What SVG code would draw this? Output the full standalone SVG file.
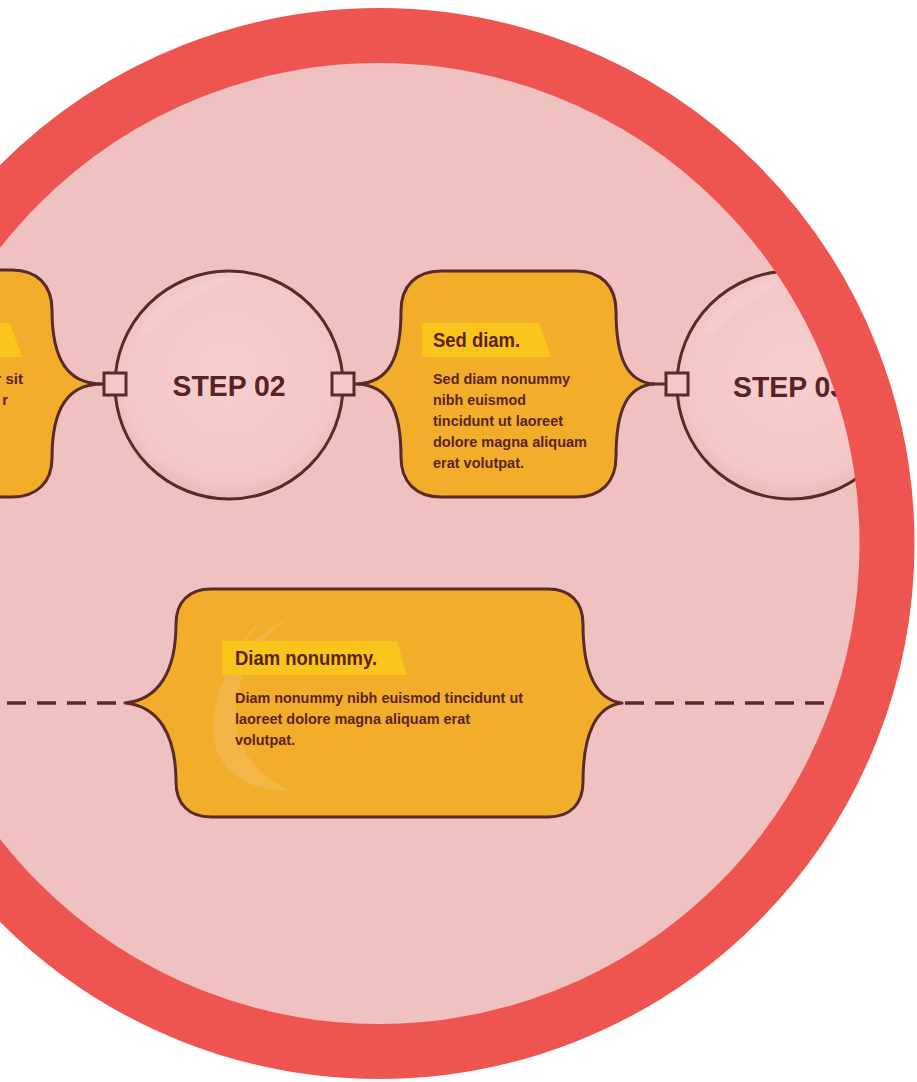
<svg xmlns="http://www.w3.org/2000/svg" width="917" height="1082" viewBox="0 0 917 1082">
  <style>
    .box { fill: #F2AE2B; stroke: #5B2A27; stroke-width: 3; stroke-linejoin: round; }
    .ribbon { fill: #F9C51C; }
    .title { font-family: "Liberation Sans", Arial, sans-serif; font-weight: bold; font-size: 21px; fill: #5A2322; }
    .body { font-family: "Liberation Sans", Arial, sans-serif; font-weight: bold; font-size: 15px; fill: #5A2322; }
    .step { fill: url(#gloss); stroke: #5B2A27; stroke-width: 3; }
    .steplabel { font-family: "Liberation Sans", Arial, sans-serif; font-weight: bold; font-size: 30px; fill: #5A2322; }
    .port { fill: #F4C8C8; stroke: #5B2A27; stroke-width: 3; }
    .link { stroke: #5B2A27; stroke-width: 3; fill: none; }
    .dash { stroke: #5B2A27; stroke-width: 3.5; fill: none; stroke-dasharray: 19 11; }
  </style>
  <defs>
    <clipPath id="inner">
      <circle cx="379" cy="543.5" r="481"/>
    </clipPath>
    <radialGradient id="gloss" cx="0.5" cy="0.45" r="0.55">
      <stop offset="0" stop-color="#F7CECE"/>
      <stop offset="0.85" stop-color="#F4C6C6"/>
      <stop offset="1" stop-color="#EBBABA"/>
    </radialGradient>
  </defs>

  <rect x="0" y="0" width="917" height="1082" fill="#FFFFFF"/>
  <circle id="background" cx="379" cy="543.5" r="481" fill="#EFC1C0"/>

  <g clip-path="url(#inner)">
    <g id="connectors">
      <line class="link" x1="98" y1="384" x2="104" y2="384"/>
      <line class="link" x1="354" y1="384" x2="360" y2="384"/>
      <line class="link" x1="652" y1="384" x2="666" y2="384"/>
      <line class="dash" x1="7" y1="703" x2="127" y2="703"/>
      <line class="dash" x1="625" y1="703" x2="900" y2="703"/>
    </g>

    <g id="box-01">
      <path class="box" d="M -100,270 H 12 C 37,270 52,285 52,310 C 52,360 68,383 100,384 C 68,385 52,408 52,458 C 52,482 37,497 12,497 H -100 Z"/>
      <polygon class="ribbon" points="-100,323 10,323 22,357 -100,357"/>
      <text class="body" x="23" y="384" text-anchor="end">r sit</text>
      <text class="body" x="8" y="405" text-anchor="end">r</text>
    </g>

    <g id="step-02">
      <circle class="step" cx="229" cy="385" r="114"/>
      <path d="M 140,330 C 160,295 200,278 240,276 C 205,290 175,305 150,335 Z" fill="#FFFFFF" opacity="0.1"/>
      <text class="steplabel" x="229" y="396" text-anchor="middle" textLength="113" lengthAdjust="spacingAndGlyphs">STEP 02</text>
      <rect class="port" x="104" y="373" width="22" height="22"/>
      <rect class="port" x="332" y="373" width="22" height="22"/>
    </g>

    <g id="box-sed-diam">
      <path class="box" d="M 441,271 H 576 C 601,271 616,286 616,311 C 616,360 628,382 654,384 C 628,386 616,408 616,457 C 616,482 601,497 576,497 H 441 C 416,497 401,482 401,457 C 401,408 388,386 358,384 C 388,382 401,360 401,311 C 401,286 416,271 441,271 Z"/>
      <polygon class="ribbon" points="422,323 539,323 551,357 422,357"/>
      <text class="title" x="433" y="347" textLength="87" lengthAdjust="spacingAndGlyphs">Sed diam.</text>
      <text class="body" x="433" y="384" textLength="137" lengthAdjust="spacingAndGlyphs">Sed diam nonummy</text>
      <text class="body" x="433" y="405" textLength="93" lengthAdjust="spacingAndGlyphs">nibh euismod</text>
      <text class="body" x="433" y="426" textLength="130" lengthAdjust="spacingAndGlyphs">tincidunt ut laoreet</text>
      <text class="body" x="433" y="447" textLength="154" lengthAdjust="spacingAndGlyphs">dolore magna aliquam</text>
      <text class="body" x="433" y="468" textLength="91" lengthAdjust="spacingAndGlyphs">erat volutpat.</text>
    </g>

    <g id="step-03">
      <circle class="step" cx="791" cy="385" r="114"/>
      <path d="M 702,330 C 722,295 762,278 802,276 C 767,290 737,305 712,335 Z" fill="#FFFFFF" opacity="0.1"/>
      <text class="steplabel" x="733" y="397" textLength="113" lengthAdjust="spacingAndGlyphs">STEP 03</text>
      <rect class="port" x="666" y="373" width="22" height="22"/>
    </g>

    <g id="box-diam-nonummy">
      <path class="box" d="M 211,589 H 548 C 570,589 583,602 583,624 C 583,672 596,700 622,703 C 596,706 583,734 583,782 C 583,804 570,817 548,817 H 211 C 189,817 176,804 176,782 C 176,734 158,706 125,703 C 158,700 176,672 176,624 C 176,602 189,589 211,589 Z"/>
      <g fill="#F7C77A" opacity="0.35">
        <path d="M 290,618 C 240,640 205,690 215,745 C 225,780 260,792 290,790 C 255,775 232,745 236,705 C 240,665 262,635 290,618 Z"/>
        <path d="M 262,620 C 228,650 215,690 226,725 C 220,690 235,650 262,620 Z"/>
      </g>
      <polygon class="ribbon" points="222,641 397,641 407,675 222,675"/>
      <text class="title" x="235" y="665" textLength="142" lengthAdjust="spacingAndGlyphs">Diam nonummy.</text>
      <text class="body" x="235" y="703" textLength="288" lengthAdjust="spacingAndGlyphs">Diam nonummy nibh euismod tincidunt ut</text>
      <text class="body" x="235" y="724" textLength="235" lengthAdjust="spacingAndGlyphs">laoreet dolore magna aliquam erat</text>
      <text class="body" x="235" y="745" textLength="60" lengthAdjust="spacingAndGlyphs">volutpat.</text>
    </g>
  </g>

  <circle id="ring" cx="379" cy="543.5" r="508" fill="none" stroke="#EE5550" stroke-width="55"/>
</svg>
